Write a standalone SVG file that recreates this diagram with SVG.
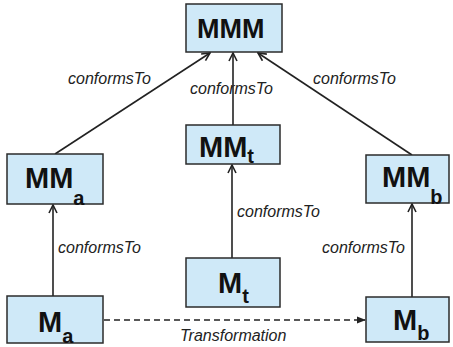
<svg xmlns="http://www.w3.org/2000/svg" width="453" height="347" viewBox="0 0 453 347">
<style>
.box{fill:#cfe9f8;stroke:#2b2b2b;stroke-width:1.5}
.t{font-family:"Liberation Sans",Arial,sans-serif;font-weight:bold;font-size:29px;fill:#111}
.s{font-size:20px}
.l{font-family:"Liberation Sans",Arial,sans-serif;font-style:italic;font-size:16px;fill:#222}
.c{stroke:#222;stroke-width:1.6;fill:none}
</style>
<defs>
<marker id="open" viewBox="0 0 10 10" refX="9" refY="5" markerWidth="10" markerHeight="10" markerUnits="userSpaceOnUse" orient="auto">
<path d="M1,1 L9,5 L1,9" fill="none" stroke="#222" stroke-width="1.6"/>
</marker>
<marker id="fill" viewBox="0 0 10 10" refX="9" refY="5" markerWidth="9" markerHeight="9" markerUnits="userSpaceOnUse" orient="auto">
<path d="M0,1 L10,5 L0,9 Z" fill="#222"/>
</marker>
</defs>
<rect width="453" height="347" fill="#fff"/>
<g id="connectors">
<line class="c" x1="55" y1="154" x2="210" y2="53" marker-end="url(#open)"/>
<line class="c" x1="233" y1="125" x2="233" y2="53" marker-end="url(#open)"/>
<line class="c" x1="412" y1="155" x2="258" y2="53" marker-end="url(#open)"/>
<line class="c" x1="53" y1="296" x2="53" y2="205" marker-end="url(#open)"/>
<line class="c" x1="232" y1="258" x2="232" y2="165" marker-end="url(#open)"/>
<line class="c" x1="412" y1="297" x2="412" y2="204" marker-end="url(#open)"/>
<line class="c" x1="104" y1="320" x2="365" y2="320" stroke-dasharray="6,4" marker-end="url(#fill)"/>
<text class="l" x="68" y="84">conformsTo</text>
<text class="l" x="190" y="94">conformsTo</text>
<text class="l" x="313" y="84">conformsTo</text>
<text class="l" x="237" y="217">conformsTo</text>
<text class="l" x="58" y="253">conformsTo</text>
<text class="l" x="322" y="253">conformsTo</text>
<text class="l" x="180" y="341">Transformation</text>
</g>
<g id="MMM">
<rect class="box" x="186" y="4" width="96" height="48"/>
<text class="t" x="197" y="38" style="font-size:27px">MMM</text>
</g>
<g id="MMt">
<rect class="box" x="186" y="125" width="94" height="39"/>
<text class="t" x="199" y="157">MM<tspan class="s" y="163">t</tspan></text>
</g>
<g id="MMa">
<rect class="box" x="7" y="154" width="96" height="50"/>
<text class="t" x="25" y="188">MM<tspan class="s" y="205">a</tspan></text>
</g>
<g id="MMb">
<rect class="box" x="366" y="155" width="83" height="48"/>
<text class="t" x="382" y="187">MM<tspan class="s" y="204">b</tspan></text>
</g>
<g id="Mt">
<rect class="box" x="186" y="258" width="94" height="49"/>
<text class="t" x="218" y="293">M<tspan class="s" y="303">t</tspan></text>
</g>
<g id="Ma">
<rect class="box" x="7" y="296" width="96" height="47"/>
<text class="t" x="38" y="332">M<tspan class="s" y="343">a</tspan></text>
</g>
<g id="Mb">
<rect class="box" x="366" y="297" width="83" height="45"/>
<text class="t" x="393" y="330">M<tspan class="s" y="340">b</tspan></text>
</g>
</svg>
